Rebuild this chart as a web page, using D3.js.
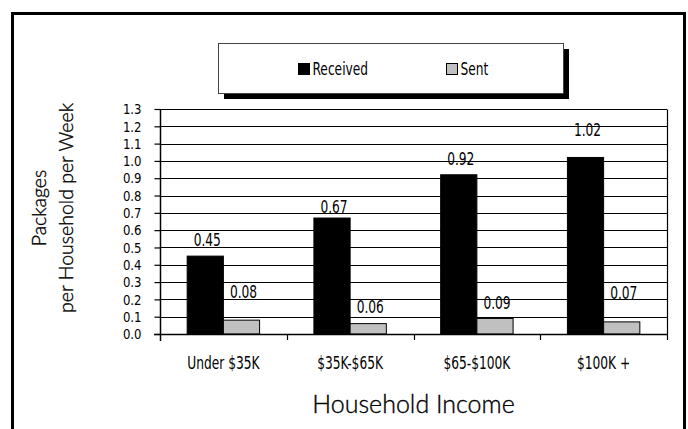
<!DOCTYPE html>
<html>
<head>
<meta charset="utf-8">
<script src="https://cdn.jsdelivr.net/npm/d3@7"></script>
<style>
  html, body { margin: 0; padding: 0; background: #fff; }
  svg { display: block; }
  .num { font-family: "DejaVu Sans Condensed", "DejaVu Sans", sans-serif; font-stretch: condensed; fill: #000; }
  .title { font-family: Lato, "Open Sans", sans-serif; font-weight: 300; fill: #000; stroke: #000; stroke-width: 0.35px; }
</style>
</head>
<body>
<svg id="chart" width="688" height="429"></svg>
<script>
// Household income brackets
const categories = ["Under $35K", "$35K-$65K", "$65-$100K", "$100K +"];
const seriesNames = ["Received", "Sent"];
// Packages per household per week
const received = [0.45, 0.67, 0.92, 1.02];
const sent = [0.08, 0.06, 0.09, 0.07];
const yTicks = [0, 0.1, 0.2, 0.3, 0.4, 0.5, 0.6, 0.7, 0.8, 0.9, 1.0, 1.1, 1.2, 1.3];

// Lift of each value label above its bar, in pixels
const labelLift = { Received: [16, 11, 16, 27], Sent: [28, 17, 15, 29] };
const fills = { Received: "#000000", Sent: "#c0c0c0" };

const svg = d3.select("#chart");
const plot = { left: 160, right: 667, top: 109, bottom: 334 };

// squeeze text horizontally for a narrow typeface look
function narrow(sel, s) {
  sel.each(function () {
    const t = d3.select(this);
    const x = +t.attr("x") || 0;
    t.attr("x", x / s).attr("transform", `scale(${s},1)`);
  });
}

// outer frame
svg.append("rect")
  .attr("x", 12.5).attr("y", 13.5)
  .attr("width", 672).attr("height", 440)
  .attr("fill", "none").attr("stroke", "#000").attr("stroke-width", 3);

const x0 = d3.scaleBand().domain(categories).range([plot.left, plot.right]).padding(0);
const x1 = d3.scaleBand().domain(seriesNames).range([0, x0.bandwidth()])
  .paddingInner(0).paddingOuter(0.75);
const y = d3.scaleLinear().domain([0, 1.3]).range([plot.bottom, plot.top]);

// gridlines
svg.append("g").selectAll("line").data(yTicks.filter(d => d > 0)).join("line")
  .attr("x1", plot.left).attr("x2", plot.right)
  .attr("y1", d => Math.round(y(d)) + 0.5).attr("y2", d => Math.round(y(d)) + 0.5)
  .attr("stroke", "#000").attr("stroke-width", 1.2);
// right border of the plot area
svg.append("line")
  .attr("x1", plot.right + 0.5).attr("x2", plot.right + 0.5)
  .attr("y1", Math.round(y(1.3)) + 0.5).attr("y2", plot.bottom)
  .attr("stroke", "#000").attr("stroke-width", 1.2);

// bars
const rows = categories.map((c, i) => ({ c, i, Received: received[i], Sent: sent[i] }));
const groups = svg.append("g").selectAll("g").data(rows).join("g")
  .attr("transform", d => `translate(${x0(d.c)},0)`);
groups.selectAll("rect").data(d => seriesNames.map(s => ({ s, v: d[s], i: d.i }))).join("rect")
  .attr("x", d => x1(d.s)).attr("width", x1.bandwidth())
  .attr("y", d => y(d.v)).attr("height", d => y(0) - y(d.v))
  .attr("fill", d => fills[d.s])
  .attr("stroke", "#000").attr("stroke-width", 1);
const valueLabels = groups.selectAll("text").data(d => seriesNames.map(s => ({ s, v: d[s], i: d.i }))).join("text")
  .attr("class", "num")
  .attr("x", d => x1(d.s) + x1.bandwidth() / 2 + 2)
  .attr("y", d => y(d.v) - labelLift[d.s][d.i])
  .attr("dy", "0.35em")
  .attr("text-anchor", "middle")
  .attr("font-size", 17)
  .text(d => d3.format(".2f")(d.v));
narrow(valueLabels, 0.8);

// y axis
const yAxis = svg.append("g").attr("transform", `translate(${plot.left + 0.5},0)`)
  .call(d3.axisLeft(y).tickValues(yTicks).tickFormat(d3.format(".1f"))
    .tickSize(6).tickPadding(13));
yAxis.attr("font-family", null).attr("font-size", null);
yAxis.select(".domain").remove();
yAxis.selectAll(".tick line").attr("stroke", "#000").attr("stroke-width", 1.2);
const yLabels = yAxis.selectAll("text").attr("class", "num").attr("font-size", 14.8).attr("fill", "#000");
narrow(yLabels, 0.88);
svg.append("line")
  .attr("x1", plot.left + 0.5).attr("x2", plot.left + 0.5)
  .attr("y1", Math.round(y(1.3))).attr("y2", plot.bottom + 7)
  .attr("stroke", "#000").attr("stroke-width", 1.5);

// x axis
svg.append("line")
  .attr("x1", plot.left - 6).attr("x2", plot.right + 1)
  .attr("y1", plot.bottom + 0.5).attr("y2", plot.bottom + 0.5)
  .attr("stroke", "#000").attr("stroke-width", 1.5);
const bounds = categories.map(c => x0(c)).concat([x0.range()[1]]);
svg.append("g").selectAll("line").data(bounds.slice(1)).join("line")
  .attr("x1", d => Math.round(d) + 0.5).attr("x2", d => Math.round(d) + 0.5)
  .attr("y1", plot.bottom).attr("y2", plot.bottom + 6)
  .attr("stroke", "#000").attr("stroke-width", 1.2);
const xAxis = svg.append("g").attr("transform", `translate(0,${plot.bottom})`)
  .call(d3.axisBottom(x0).tickSize(0).tickPadding(23));
xAxis.attr("font-family", null).attr("font-size", null);
xAxis.select(".domain").remove();
const xLabels = xAxis.selectAll("text").attr("class", "num").attr("font-size", 17).attr("fill", "#000");
narrow(xLabels, 0.8);

// axis titles
svg.append("text").attr("class", "title")
  .attr("x", (plot.left + plot.right) / 2).attr("y", 404)
  .attr("dy", "0.35em").attr("text-anchor", "middle")
  .attr("font-size", 25).text("Household Income");
const yt = svg.append("text").attr("class", "title")
  .attr("transform", "translate(0,208) rotate(-90)")
  .attr("text-anchor", "middle").attr("font-size", 19.5);
yt.append("tspan").attr("x", 0).attr("y", 46).text("Packages");
yt.append("tspan").attr("x", 0).attr("y", 73).text("per Household per Week");

// legend
const lg = { x: 218, y: 43, w: 345, h: 50 };
svg.append("rect").attr("x", lg.x + 6).attr("y", lg.y + 6)
  .attr("width", lg.w).attr("height", lg.h).attr("fill", "#000");
svg.append("rect").attr("x", lg.x + 0.5).attr("y", lg.y + 0.5)
  .attr("width", lg.w).attr("height", lg.h)
  .attr("fill", "#fff").attr("stroke", "#444").attr("stroke-width", 1);
const legendX = { Received: 298, Sent: 446 };
seriesNames.forEach(s => {
  svg.append("rect").attr("x", legendX[s] + 0.5).attr("y", lg.y + 20.5)
    .attr("width", 11).attr("height", 11)
    .attr("fill", fills[s]).attr("stroke", "#000").attr("stroke-width", 1);
  const t = svg.append("text").attr("class", "num")
    .attr("x", legendX[s] + 14.5).attr("y", lg.y + 26)
    .attr("dy", "0.35em").attr("font-size", 17).text(s);
  narrow(t, 0.8);
});
</script>
</body>
</html>
